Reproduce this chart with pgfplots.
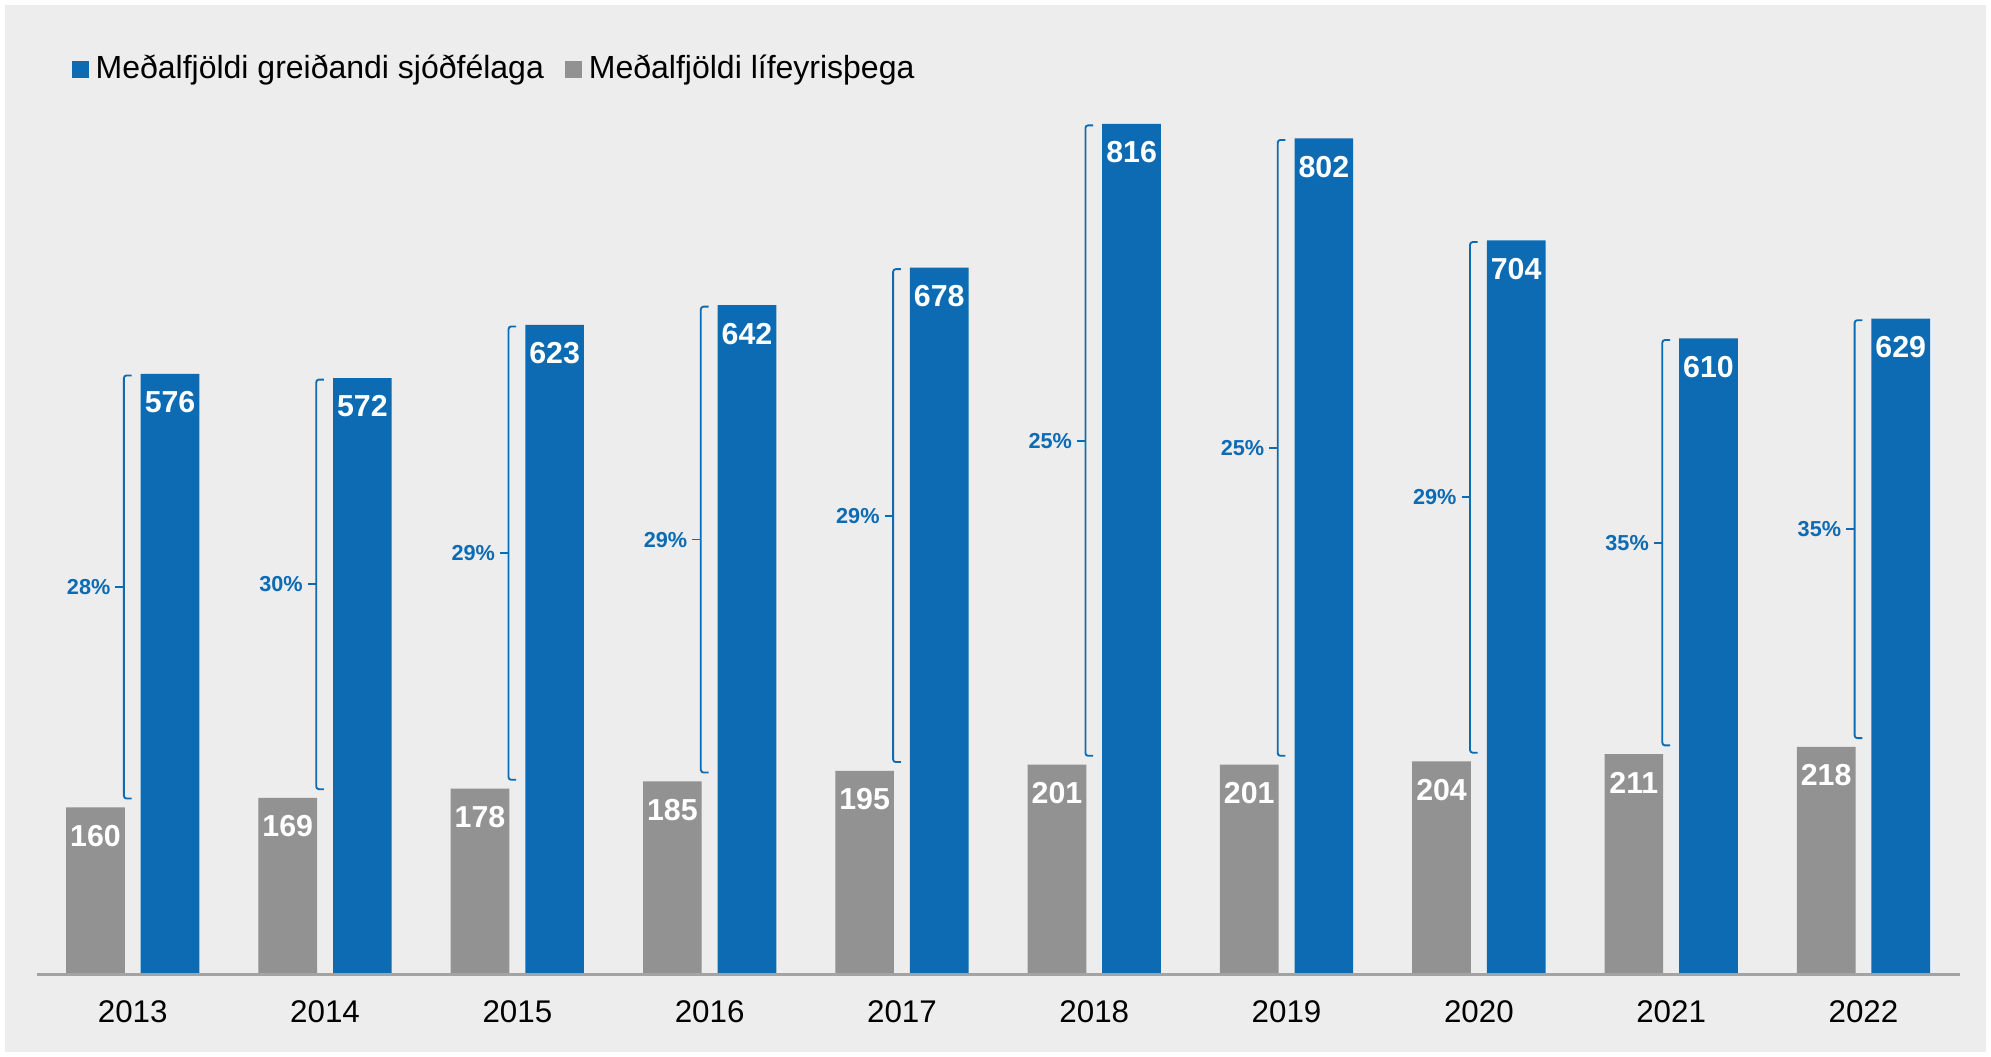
\documentclass[border=0pt]{standalone}
\usepackage{pgfplots}
\pgfplotsset{compat=1.18}
\usepackage{fontspec}
\setmainfont{Liberation Sans}
\definecolor{cblue}{HTML}{0C6BB3}
\definecolor{cgray}{HTML}{929292}
\definecolor{bgcol}{HTML}{EDEDED}
\definecolor{axisgray}{HTML}{A3A3A3}
\tikzset{
  brk/.style={cblue, line width=0.55pt, rounded corners=0.8pt},
  pct/.style={anchor=east, inner sep=0pt, text=cblue, font=\bfseries\fontsize{6.5}{7}\selectfont},
}
\begin{document}
\begin{tikzpicture}
\fill[white] (0,0) rectangle (597.3pt,316.8pt);
\fill[bgcol] (1.5pt,1.2pt) rectangle (595.8pt,315.3pt);
\begin{axis}[
  at={(10.98pt,24.6pt)}, anchor=south west,
  scale only axis, width=576.9pt, height=265.7pt,
  xmin=-0.5, xmax=9.5, ymin=0, ymax=850,
  axis line style={draw=none},
  ytick=\empty,
  xtick={0,...,9},
  xticklabels={2013,2014,2015,2016,2017,2018,2019,2020,2021,2022},
  major tick length=0pt,
  xticklabel style={anchor=center, yshift=-11.3pt, font=\fontsize{9.4}{10}\selectfont},
  ybar, bar width=0.305,
  clip=false,
  /pgf/number format/assume math mode=true,
  nodes near coords,
  every node near coord/.append style={anchor=center, yshift=-8.55pt, text=white,
    font=\bfseries\fontsize{9.1}{10}\selectfont},
]
% Meðalfjöldi greiðandi sjóðfélaga
\addplot[fill=cblue, draw=none, bar shift=0.194] coordinates {
  (0,576) (1,572) (2,623) (3,642) (4,678) (5,816) (6,802) (7,704) (8,610) (9,629)
};
% Meðalfjöldi lífeyrisþega
\addplot[fill=cgray, draw=none, bar shift=-0.194] coordinates {
  (0,160) (1,169) (2,178) (3,185) (4,195) (5,201) (6,201) (7,204) (8,211) (9,218)
};
\draw[axisgray, line width=0.9pt] (axis cs:-0.5,0) -- (axis cs:9.5,0);
% brackets with share of pensioners
\foreach \i/\g/\b/\p in {0/160/576/28,1/169/572/30,2/178/623/29,3/185/642/29,4/195/678/29,
                         5/201/816/25,6/201/802/25,7/204/704/29,8/211/610/35,9/218/629/35}{
  \pgfmathsetmacro\xh{\i-0.006}
  \pgfmathsetmacro\xl{\i-0.046}
  \pgfmathsetmacro\xt{\i-0.09}
  \pgfmathsetmacro\xp{\i-0.113}
  \pgfmathsetmacro\yt{\b-1.5}
  \pgfmathsetmacro\yb{\g+8.4}
  \pgfmathsetmacro\ym{(\yt+\yb)/2}
  \edef\tmp{\noexpand\draw[brk] (axis cs:\xh,\yt) -- (axis cs:\xl,\yt) -- (axis cs:\xl,\yb) -- (axis cs:\xh,\yb);
    \noexpand\draw[brk] (axis cs:\xl,\ym) -- (axis cs:\xt,\ym);
    \noexpand\node[pct] at (axis cs:\xp,\ym) {\p\noexpand\%};}
  \tmp
}
\end{axis}
\node[anchor=base west, inner sep=0pt, font=\fontsize{9.6}{11}\selectfont] at (21.3pt,293.1pt)
  {\textcolor{cblue}{\rule[0.3pt]{5.1pt}{5.1pt}}\hspace{2.1pt}Meðalfjöldi greiðandi sjóðfélaga\hspace{6.3pt}\textcolor{cgray}{\rule[0.3pt]{5.1pt}{5.1pt}}\hspace{2.1pt}Meðalfjöldi lífeyrisþega};
\end{tikzpicture}
\end{document}
